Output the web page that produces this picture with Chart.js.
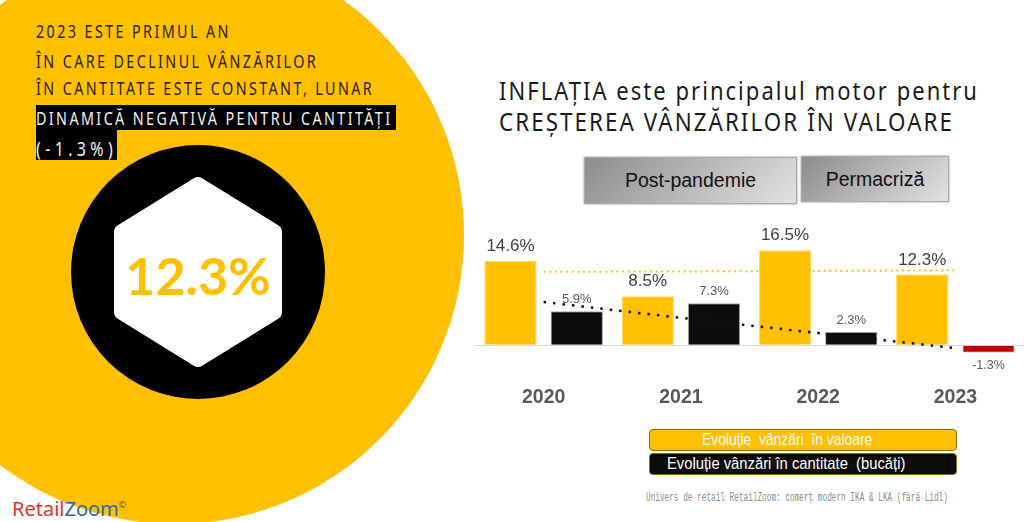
<!DOCTYPE html>
<html lang="ro">
<head>
<meta charset="utf-8">
<title>Inflația și vânzările</title>
<script src="https://cdn.jsdelivr.net/npm/chart.js@4"></script>
<style>
html, body { margin: 0; padding: 0; background: #fff; overflow: hidden; }
#page { position: relative; width: 1024px; height: 522px; overflow: hidden; font-family: "Liberation Sans", Arial, sans-serif; }
#fundal { position: absolute; left: 0; top: 0; }
.abs { position: absolute; white-space: nowrap; }
.stanga { left: 36px; font-family: "Noto Sans", sans-serif; font-size: 18px; line-height: 24px; letter-spacing: 3px; color: #2b2200; transform: scaleX(.797); transform-origin: left top; }
.alb { color: #f2f2f2; }
.fundal-negru { background: #000; left: 36px; }
.titlu { left: 499px; font-family: "Noto Sans", sans-serif; font-size: 26px; line-height: 28px; letter-spacing: 2.4px; color: #1a1a1a; transform-origin: left top; }
.buton { box-sizing: border-box; display: flex; align-items: center; justify-content: center; font-size: 19.5px; color: #111; border: 1px solid #aaa; background: linear-gradient(135deg, #8c8c8c, #e2e2e2); box-shadow: 0 0 2px #888; }
.pastila { left: 649px; width: 308px; height: 22px; box-sizing: border-box; border-radius: 4px; border: 1px solid #8a6d10; }
.pastila-text { font-size: 17px; line-height: 22px; color: #fff; transform-origin: left top; }
#grafic { position: absolute; left: 475px; top: 215px; }
</style>
</head>
<body>
<div id="page">
    <svg id="fundal" width="1024" height="522">
        <circle cx="175" cy="235" r="289" fill="#FFC000"/>
        <circle cx="198" cy="272" r="127" fill="#000"/>
        <polygon points="198,185 274,232 274,312 198,359 122,312 122,232" fill="#fff" stroke="#fff" stroke-width="16" stroke-linejoin="round"/>
    </svg>

    <div class="abs fundal-negru" style="top:105px;height:25px;width:360px"></div>
    <div class="abs fundal-negru" style="top:130px;height:30px;width:81px"></div>

    <div class="abs stanga" style="top:19px">2023 ESTE PRIMUL AN</div>
    <div class="abs stanga" style="top:49px">ÎN CARE DECLINUL VÂNZĂRILOR</div>
    <div class="abs stanga" style="top:76px">ÎN CANTITATE ESTE CONSTANT, LUNAR</div>
    <div class="abs stanga alb" style="top:106px">DINAMICĂ NEGATIVĂ PENTRU CANTITĂȚI</div>
    <div class="abs stanga alb" style="top:137px;font-size:20px;letter-spacing:5.5px">(-1.3%)</div>

    <div class="abs" style="left:98px;width:200px;text-align:center;top:244px;font-family:Lato,sans-serif;font-weight:700;font-size:52px;line-height:62px;color:#FFC000">12.3%</div>

    <div class="abs" style="left:12px;top:491px;font-family:'Noto Sans',sans-serif;font-size:20px;line-height:28px"><span style="color:#e0342a">Retail</span><span style="color:#2a6ca8">Zoom</span><span style="color:#555;font-size:9px;vertical-align:8px">©</span></div>

    <div class="abs titlu" style="top:76px;transform:scaleX(.846)">INFLAȚIA este principalul motor pentru</div>
    <div class="abs titlu" style="top:107px;transform:scaleX(.86)">CREȘTEREA VÂNZĂRILOR ÎN VALOARE</div>

    <div class="abs buton" style="left:584px;top:157px;width:213px;height:47px">Post-pandemie</div>
    <div class="abs buton" style="left:801px;top:156px;width:148px;height:46px">Permacriză</div>

    <canvas id="grafic" width="549" height="195"></canvas>

    <div class="abs pastila" style="top:429px;background:#FFC000"></div>
    <div class="abs pastila" style="top:453px;background:#0d0d0d"></div>
    <div class="abs pastila-text" style="left:702px;top:429px;transform:scaleX(.815)">Evoluție&nbsp; vânzări&nbsp; în valoare</div>
    <div class="abs pastila-text" style="left:667px;top:453px;transform:scaleX(.87)">Evoluție vânzări în cantitate&nbsp; (bucăți)</div>

    <div class="abs" style="left:646px;top:491px;font-family:'Liberation Mono',monospace;font-size:12px;line-height:14px;color:#8a8a8a;transform:scaleX(.645);transform-origin:left top">Univers de retail RetailZoom: comerț modern IKA &amp; LKA (fără Lidl)</div>
</div>

<script>
// Date
const ani = ['2020', '2021', '2022', '2023'];
const vanzariValoare = [14.6, 8.5, 16.5, 12.3];
const vanzariCantitate = [5.9, 7.3, 2.3, -1.3];
const trendValoare = [12.75, 12.8, 12.9, 13];
const trendCantitate = [7.5, 4.75, 2.1, -0.5];

const GALBEN = '#FFC000';
const NEGRU = '#0d0d0d';
const ROSU = '#C00000';

// Etichetele de valoare de deasupra barelor
const eticheteBare = {
    id: 'eticheteBare',
    afterDatasetsDraw(chart) {
        const ctx = chart.ctx;
        ctx.save();
        ctx.textAlign = 'center';
        ctx.textBaseline = 'middle';
        chart.getDatasetMeta(0).data.forEach((bar, i) => {
            ctx.font = '17px "Liberation Sans"';
            ctx.fillStyle = '#404040';
            ctx.fillText(vanzariValoare[i].toFixed(1) + '%', bar.x, bar.y - 14.5);
        });
        chart.getDatasetMeta(1).data.forEach((bar, i) => {
            const v = vanzariCantitate[i];
            ctx.font = (v < 0 ? '12.5px' : '13px') + ' "Liberation Sans"';
            ctx.fillStyle = '#595959';
            ctx.fillText(v.toFixed(1) + '%', bar.x, v < 0 ? bar.y + 13 : bar.y - 12);
        });
        ctx.restore();
    }
};

new Chart(document.getElementById('grafic'), {
    type: 'bar',
    data: {
        labels: ani,
        datasets: [
            {
                label: 'Evoluție vânzări în valoare',
                data: vanzariValoare,
                backgroundColor: GALBEN,
                borderColor: '#ffd966',
                borderWidth: 1,
                categoryPercentage: 0.966,
                barPercentage: 0.789,
                order: 2
            },
            {
                label: 'Evoluție vânzări în cantitate (bucăți)',
                data: vanzariCantitate,
                backgroundColor: ctx => ctx.raw < 0 ? ROSU : NEGRU,
                borderColor: ctx => ctx.raw < 0 ? '#d9d9d9' : '#a6a6a6',
                borderWidth: 1,
                categoryPercentage: 0.966,
                barPercentage: 0.789,
                order: 2
            },
            {
                type: 'line',
                data: trendValoare,
                borderColor: GALBEN,
                borderWidth: 2,
                borderDash: [2, 3.6],
                pointRadius: 0,
                order: 1
            },
            {
                type: 'line',
                data: trendCantitate,
                borderColor: '#111',
                borderWidth: 2.5,
                borderDash: [2.5, 7],
                pointRadius: 0,
                order: 1
            }
        ]
    },
    options: {
        responsive: false,
        animation: false,
        layout: { padding: { top: 15 } },
        plugins: { legend: { display: false }, tooltip: { enabled: false } },
        scales: {
            x: {
                grid: { display: false },
                border: { display: false },
                ticks: { color: '#595959', font: { family: '"Liberation Sans"', size: 19.5, weight: 'bold' }, padding: 4 },
                afterFit: scale => { scale.height = 36; }
            },
            y: {
                min: -5,
                max: 20,
                ticks: { display: false, stepSize: 5 },
                border: { display: false },
                grid: {
                    drawTicks: false,
                    color: ctx => ctx.tick.value === 0 ? '#d9d9d9' : 'transparent'
                }
            }
        }
    },
    plugins: [eticheteBare]
});
</script>
</body>
</html>
